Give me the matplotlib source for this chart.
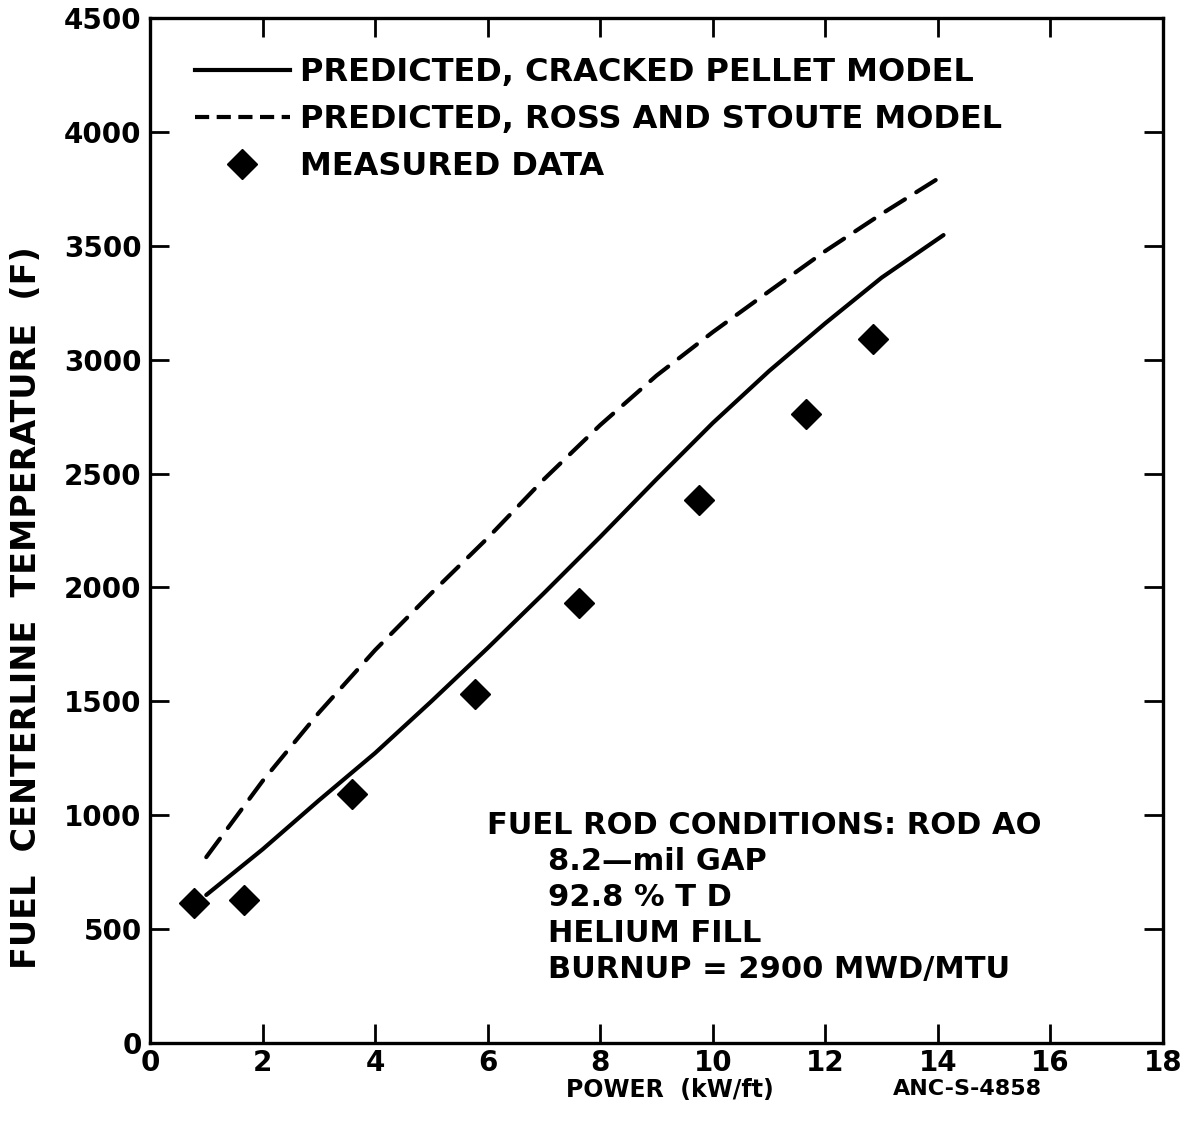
import matplotlib

matplotlib.use("Agg")
import matplotlib.pyplot as plt
from matplotlib.lines import Line2D

# values
power_cracked = [1.0, 2.0, 3.0, 4.0, 5.0, 6.0, 7.0, 8.0, 9.0, 10.0, 11.0, 12.0, 13.0, 14.1]
temp_cracked = [650, 850, 1065, 1273, 1500, 1734, 1975, 2222, 2475, 2722, 2950, 3160, 3360, 3547]

power_ross = [1.0, 2.0, 3.0, 4.0, 5.0, 6.0, 7.0, 8.0, 9.0, 10.0, 11.0, 12.0, 13.0, 14.1]
temp_ross = [816, 1150, 1450, 1725, 1975, 2217, 2475, 2713, 2930, 3121, 3300, 3477, 3640, 3810]

power_measured = [0.79, 1.67, 3.59, 5.77, 7.62, 9.75, 11.65, 12.85]
temp_measured = [614, 628, 1092, 1532, 1930, 2383, 2761, 3089]

x_ticks = [0, 2, 4, 6, 8, 10, 12, 14, 16, 18]
y_ticks = [0, 500, 1000, 1500, 2000, 2500, 3000, 3500, 4000, 4500]

conditions = ["8.2\u2014mil GAP", "92.8 % T D", "HELIUM FILL", "BURNUP = 2900 MWD/MTU"]

plt.rcParams["font.family"] = ["DejaVu Sans"]

fig = plt.figure(figsize=(11.85, 11.29), dpi=100)
ax = fig.add_axes([150 / 1185, 86 / 1129, 1013 / 1185, 1025 / 1129])

ax.plot(power_cracked, temp_cracked, color="black", lw=3.0, solid_capstyle="round")
ross, = ax.plot(power_ross, temp_ross, color="black", lw=3.0, dash_capstyle="round")
ross.set_dashes([5.5, 3.2])
ax.plot(power_measured, temp_measured, ls="none", marker="D", ms=15, color="black")

ax.set_xlim(0, 18)
ax.set_ylim(0, 4500)
ax.set_xticks(x_ticks)
ax.set_yticks(y_ticks)
ax.tick_params(direction="in", length=14, width=2, top=True, right=True,
               labelsize=20, pad=6)
ax.tick_params(axis="x", pad=4)
for lab in ax.get_xticklabels() + ax.get_yticklabels():
    lab.set_fontweight("bold")
for sp in ax.spines.values():
    sp.set_linewidth(2.4)

ax.set_xlabel("POWER  (kW/ft)", fontsize=17, fontweight="bold")
ax.xaxis.set_label_coords(0.513, -0.034)
ax.set_ylabel("FUEL  CENTERLINE  TEMPERATURE  (F)", fontsize=24, fontweight="bold")
ax.yaxis.set_label_coords(-0.106, 0.425)
fig.text(893 / 1185, 1 - 1089 / 1129, "ANC-S-4858", fontsize=16, fontweight="bold",
         va="center", ha="left")

handles = [
    Line2D([], [], color="black", lw=3.0),
    Line2D([], [], color="black", lw=3.0, dashes=[3.4, 1.8]),
    Line2D([], [], ls="none", marker="D", ms=15, color="black"),
]
labels = ["PREDICTED, CRACKED PELLET MODEL", "PREDICTED, ROSS AND STOUTE MODEL", "MEASURED DATA"]
ax.legend(handles, labels, loc="upper left", bbox_to_anchor=(0.044, 0.962), frameon=False,
          handlelength=3.0, handletextpad=0.3, labelspacing=0.5, borderpad=0,
          borderaxespad=0, prop={"size": 23, "weight": "bold"})

ax.text(5.99, 953, "FUEL ROD CONDITIONS: ROD AO", fontsize=22, fontweight="bold",
        va="center", ha="left")
for i, line in enumerate(conditions):
    ax.text(7.07, 795 - i * 158, line, fontsize=22, fontweight="bold",
            va="center", ha="left")

fig.savefig("out.png", dpi=100)
